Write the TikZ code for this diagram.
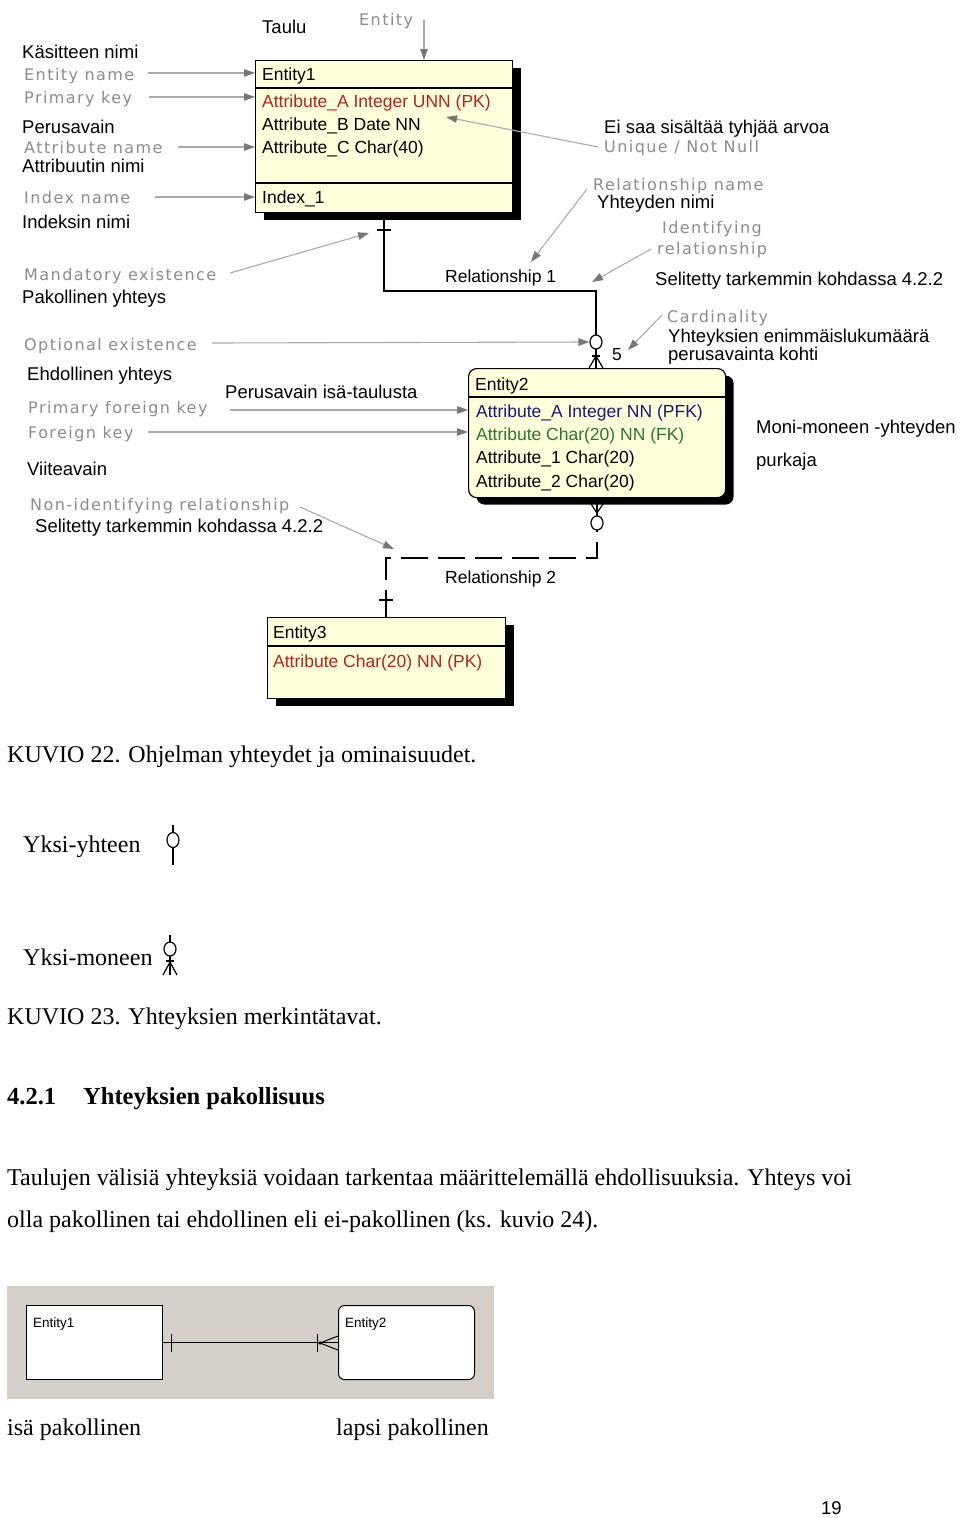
\documentclass[tikz,border=0pt]{standalone}
\usepackage{fontspec}
\setmainfont{Liberation Serif}
\setsansfont{Liberation Sans}
\newfontfamily\grayfont[LetterSpace=9]{DejaVu Sans}
\usetikzlibrary{arrows.meta,shadows,shapes.geometric}
\definecolor{boxfill}{RGB}{255,255,220}
\definecolor{attred}{RGB}{170,40,30}
\definecolor{attnavy}{RGB}{25,25,115}
\definecolor{attgreen}{RGB}{40,120,40}
\definecolor{labgray}{RGB}{140,140,140}
\definecolor{arrgray}{RGB}{170,170,170}
\definecolor{tipgray}{RGB}{120,120,120}
\definecolor{bggray}{RGB}{212,208,200}
\tikzset{
  lbl/.style={inner sep=0pt, anchor=base west, font=\sffamily\fontsize{18.5}{20}\selectfont},
  glbl/.style={inner sep=0pt, anchor=base west, text=labgray, font=\grayfont\fontsize{16}{18}\selectfont},
  etxt/.style={inner sep=0pt, anchor=base west, font=\sffamily\fontsize{17.5}{19}\selectfont},
  stxt/.style={inner sep=0pt, anchor=base west, font=\sffamily\fontsize{13.5}{15}\selectfont},
  serif/.style={inner sep=0pt, anchor=base west, font=\rmfamily\fontsize{24}{27}\selectfont},
  bserif/.style={inner sep=0pt, anchor=base west, font=\rmfamily\bfseries\fontsize{24.5}{27}\selectfont},
  garr/.style={draw=arrgray, line width=1.1pt, -{Triangle[length=11pt,width=7.5pt,color=tipgray]}},
  ebox/.style={draw=black, line width=1.2pt, fill=boxfill, inner sep=0pt, anchor=north west,
    drop shadow={shadow xshift=8pt, shadow yshift=-7pt, fill=black, opacity=1}},
  relline/.style={draw=black, line width=1.3pt},
  optc/.style={ellipse, draw=black, line width=1.2pt, fill=white, inner sep=0pt, minimum width=12pt, minimum height=14pt},
  wbox/.style={draw=black, line width=1pt, fill=white, inner sep=0pt, anchor=north west, minimum width=136pt, minimum height=74pt}
}
\begin{document}
\begin{tikzpicture}[x=1pt,y=-1pt]
\useasboundingbox[fill=white] (0,0) rectangle (960,1518);

% ---------- Entity boxes ----------
\node[ebox, minimum width=257pt, minimum height=152pt] (e1) at (255,60) {};
\draw[line width=1.2pt] (255,88) -- (512,88) (255,183) -- (512,183);
\node[ebox, rounded corners=8pt, minimum width=257pt, minimum height=129pt] (e2) at (468,368) {};
\draw[line width=1.2pt] (468,397) -- (725,397);
\node[ebox, minimum width=238pt, minimum height=81pt] (e3) at (267,617) {};
\draw[line width=1.2pt] (267,646) -- (505,646);

% Entity1 texts
\node[etxt] (e1n) at (262,80) {Entity1};
\node[etxt, text=attred] (e1a) at (262,107) {Attribute\_A Integer UNN (PK)};
\node[etxt] (e1b) at (262,130) {Attribute\_B Date NN};
\node[etxt] (e1c) at (262,153) {Attribute\_C Char(40)};
\node[etxt] (e1i) at (262,203) {Index\_1};
% Entity2 texts
\node[etxt] (e2n) at (475,390) {Entity2};
\node[etxt, text=attnavy] (e2a) at (476,417) {Attribute\_A Integer NN (PFK)};
\node[etxt, text=attgreen] (e2b) at (476,440) {Attribute Char(20) NN (FK)};
\node[etxt] (e2c) at (476,463) {Attribute\_1 Char(20)};
\node[etxt] (e2d) at (476,487) {Attribute\_2 Char(20)};
% Entity3 texts
\node[etxt] (e3n) at (273,638) {Entity3};
\node[etxt, text=attred] (e3a) at (273,667) {Attribute Char(20) NN (PK)};

% ---------- Relationship 1 ----------
\coordinate (r1l) at (384,291);
\coordinate (r1r) at (596,291);
\draw[relline] (e1.south -| r1l) -- (r1l) -- (r1r) -- (e2.north -| r1r);
\draw[relline] (377,230) -- (391,230);
\node[optc] (c1) at (596,342) {};
\draw[relline] (592,356) -- (600,356);
\draw[line width=1.2pt] (596,356) -- (589,368) (596,356) -- (603,368);
\node[etxt] (r1t) at (445,282) {Relationship 1};
\node[etxt] (card) at (612,360) {5};

% ---------- Relationship 2 ----------
\coordinate (r2l) at (386,558);
\coordinate (r2r) at (597,558);
\coordinate (r2b) at (597,504);
\draw[relline, dash pattern=on 27pt off 10pt] (e3.north -| r2l) -- (r2l) -- (r2r) -- (597,530);
\draw[relline] (r2b) -- (597,516);
\draw[line width=1.2pt] (591,504) -- (597,513) -- (603,504);
\node[optc] (c2) at (597,523) {};
\draw[relline] (379,600) -- (393,600);
\node[etxt] (r2t) at (445,583) {Relationship 2};

% ---------- Labels ----------
\node[lbl] (taulu) at (262,33) {Taulu};
\node[glbl] (lent) at (359,25) {Entity};
\node[lbl] (kn) at (22,58) {Käsitteen nimi};
\node[glbl] (len) at (24,80) {Entity name};
\node[glbl] (lpk) at (24,103) {Primary key};
\node[lbl] (pa) at (22,133) {Perusavain};
\node[glbl] (lan) at (24,153) {Attribute name};
\node[lbl] (an) at (22,172) {Attribuutin nimi};
\node[glbl] (lin) at (24,203) {Index name};
\node[lbl] (inn) at (22,228) {Indeksin nimi};
\node[lbl] (eisaa) at (604,133) {Ei saa sisältää tyhjää arvoa};
\node[glbl] (lunn) at (604,152) {Unique / Not Null};
\node[glbl] (lrn) at (593,190) {Relationship name};
\node[lbl] (yn) at (597,208) {Yhteyden nimi};
\node[glbl] (lid1) at (662,233) {Identifying};
\node[glbl] (lid2) at (657,254) {relationship};
\node[glbl] (lme) at (24,280) {Mandatory existence};
\node[lbl] (py) at (22,303) {Pakollinen yhteys};
\node[lbl] (sel1) at (655,285) {Selitetty tarkemmin kohdassa 4.2.2};
\node[glbl] (lcard) at (667,322) {Cardinality};
\node[lbl] (ye1) at (668,342) {Yhteyksien enimmäislukumäärä};
\node[lbl] (ye2) at (668,360) {perusavainta kohti};
\node[glbl] (loe) at (24,350) {Optional existence};
\node[lbl] (ey) at (27,380) {Ehdollinen yhteys};
\node[lbl] (pit) at (225,398) {Perusavain isä-taulusta};
\node[glbl] (lpfk) at (28,413) {Primary foreign key};
\node[glbl] (lfk) at (28,438) {Foreign key};
\node[lbl] (va) at (27,475) {Viiteavain};
\node[lbl] (mm1) at (756,433) {Moni-moneen -yhteyden};
\node[lbl] (mm2) at (756,466) {purkaja};
\node[glbl] (lnir) at (30,510) {Non-identifying relationship};
\node[lbl] (sel2) at (35,532) {Selitetty tarkemmin kohdassa 4.2.2};

% ---------- Gray arrows ----------
\coordinate (aEnt) at (424,20);
\draw[garr] (aEnt) -- (aEnt |- e1.north);
\coordinate (aEn) at (148,73);
\draw[garr] (aEn) -- (aEn -| e1.west);
\coordinate (aPk) at (149,97);
\draw[garr] (aPk) -- (aPk -| e1.west);
\coordinate (aAn) at (178,147);
\draw[garr] (aAn) -- (aAn -| e1.west);
\coordinate (aIn) at (155,197);
\draw[garr] (aIn) -- (aIn -| e1.west);
\coordinate (aUnn) at (598,147);
\coordinate (tUnn) at (446,117);
\draw[garr] (aUnn) -- (tUnn);
\coordinate (aMe) at (230,273);
\coordinate (tMe) at (369,233);
\draw[garr] (aMe) -- (tMe);
\coordinate (aRn) at (587,189);
\coordinate (tRn) at (531,262);
\draw[garr] (aRn) -- (tRn);
\coordinate (aId) at (651,249);
\coordinate (tId) at (592,282);
\draw[garr] (aId) -- (tId);
\coordinate (aCa) at (662,315);
\coordinate (tCa) at (628,350);
\draw[garr] (aCa) -- (tCa);
\coordinate (aOe) at (212,343);
\draw[garr] (aOe) -- (c1.west);
\coordinate (aPfk) at (230,410);
\draw[garr] (aPfk) -- (aPfk -| e2.west);
\coordinate (aFk) at (148,432);
\draw[garr] (aFk) -- (aFk -| e2.west);
\coordinate (aNir) at (300,507);
\coordinate (tNir) at (394,549);
\draw[garr] (aNir) -- (tNir);

% ---------- Captions & KUVIO 23 ----------
\node[serif] (k22) at (7,762) {KUVIO 22. Ohjelman yhteydet ja ominaisuudet.};
\node[serif] (y11) at (23,852) {Yksi-yhteen};
\draw[relline] (173,825) -- (173,865);
\node[optc, minimum height=15pt] (s1) at (173,840) {};
\node[serif] (y1n) at (23,965) {Yksi-moneen};
\draw[relline] (170,935) -- (170,975);
\node[optc] (s2) at (170,949) {};
\draw[relline] (166,961) -- (174,961);
\draw[line width=1.2pt] (170,962) -- (163,975) (170,962) -- (177,975);
\node[serif] (k23) at (7,1024) {KUVIO 23. Yhteyksien merkintätavat.};

\node[bserif] (h421) at (7,1104) {4.2.1};
\node[bserif] (h421t) at (83,1104) {Yhteyksien pakollisuus};
\node[serif] (p1) at (7,1185) {Taulujen välisiä yhteyksiä voidaan tarkentaa määrittelemällä ehdollisuuksia. Yhteys voi};
\node[serif] (p2) at (7,1227) {olla pakollinen tai ehdollinen eli ei-pakollinen (ks. kuvio 24).};

% ---------- Bottom diagram ----------
\fill[bggray] (7,1286) rectangle (494,1399);
\node[wbox] (be1) at (26,1305) {};
\node[wbox, rounded corners=6pt] (be2) at (338,1305) {};
\node[stxt] at (33,1327) {Entity1};
\node[stxt] at (345,1327) {Entity2};
\draw[line width=1pt] (be1.east) -- (be2.west);
\draw[line width=1pt] (171,1334) -- (171,1352) (317,1334) -- (317,1352);
\draw[line width=1pt] (320,1343) -- (338,1336) (320,1343) -- (338,1350);
\fill (320,1343) circle (1.8);
\node[serif] (isa) at (7,1435) {isä pakollinen};
\node[serif] (lapsi) at (336,1435) {lapsi pakollinen};

\node[lbl] (pg) at (821,1514) {19};
\end{tikzpicture}
\end{document}
